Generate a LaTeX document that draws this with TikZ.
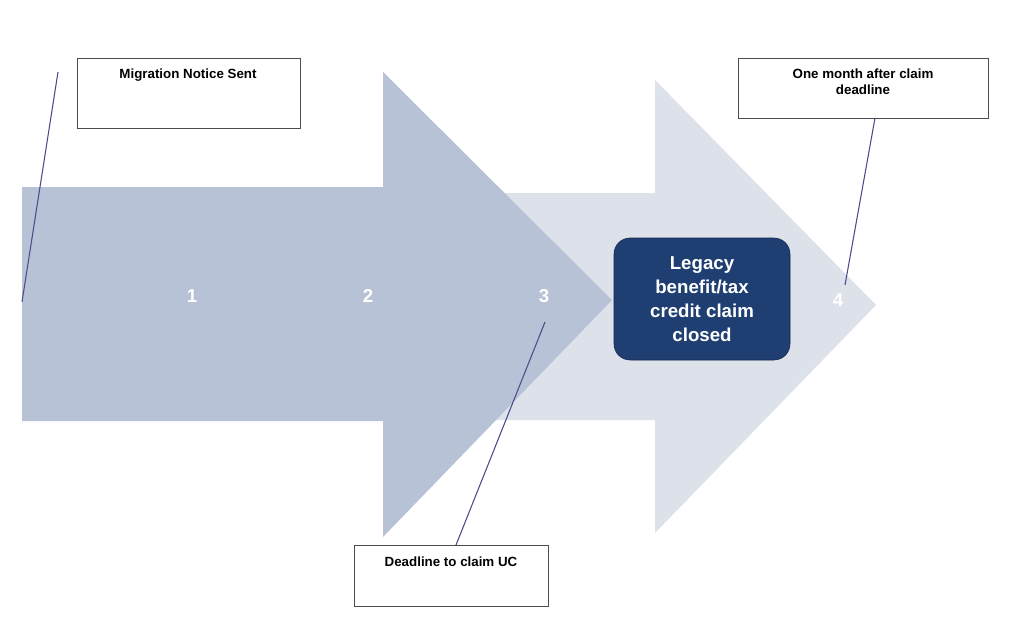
\documentclass[tikz,border=0pt]{standalone}
\usepackage{fontspec}
\setmainfont{Liberation Sans}
\begin{document}
\begin{tikzpicture}[x=0.75pt,y=-0.75pt,
  callout/.style={draw=black!70,line width=0.6pt,fill=white,minimum width=#1,align=center,font=\bfseries\fontsize{10}{12}\selectfont,inner sep=3pt},
  num/.style={text=white,font=\bfseries\fontsize{14}{16}\selectfont},
  lead/.style={draw=black!40!blue!40!gray,line width=0.8pt}]
\useasboundingbox (0,0) rectangle (1024,636);
\fill[white] (0,0) rectangle (1024,636);
% back (light) arrow
\fill[fill={rgb,255:red,220;green,225;blue,234}] (400,193) -- (655,193) -- (655,80) -- (876,305) -- (655,533) -- (655,420) -- (400,420) -- cycle;
% front (dark) arrow
\fill[fill={rgb,255:red,184;green,194;blue,214}] (22,187) -- (383,187) -- (383,72) -- (612,300) -- (383,537) -- (383,421) -- (22,421) -- cycle;
\node[num] (n1) at (192,296) {1};
\node[num] (n2) at (368,296) {2};
\node[num] (n3) at (544,296) {3};
\node[num] (n4) at (838,300) {4};
\node[fill={rgb,255:red,31;green,63;blue,115},draw={rgb,255:red,20;green,40;blue,80},rounded corners=12pt,minimum width=176*0.75pt,minimum height=122*0.75pt,text=white,align=center,font=\bfseries\fontsize{14}{18}\selectfont] (legacy) at (702,299) {Legacy\\benefit/tax\\credit claim\\closed};
\draw[draw=black!70,line width=0.6pt] (77,58) rectangle (300,128);
\node[font=\bfseries\fontsize{10}{12}\selectfont,anchor=north] (m) at (188,64) {Migration Notice Sent};
\draw[draw=black!70,line width=0.6pt] (738,58) rectangle (988,118);
\node[font=\bfseries\fontsize{10}{12}\selectfont,anchor=north,align=center] (o) at (863,64) {One month after claim\\deadline};
\draw[draw=black!70,line width=0.6pt] (354,545) rectangle (548,606);
\node[font=\bfseries\fontsize{10}{12}\selectfont,anchor=north] (d) at (451,552) {Deadline to claim UC};
\coordinate (a1) at (58,72); \coordinate (b1) at (22,302);
\coordinate (a2) at (875,118); \coordinate (b2) at (845,285);
\coordinate (a3) at (456,545); \coordinate (b3) at (545,322);
\draw[lead] (a1) -- (b1);
\draw[lead] (a2) -- (b2);
\draw[lead] (a3) -- (b3);
\end{tikzpicture}
\end{document}
